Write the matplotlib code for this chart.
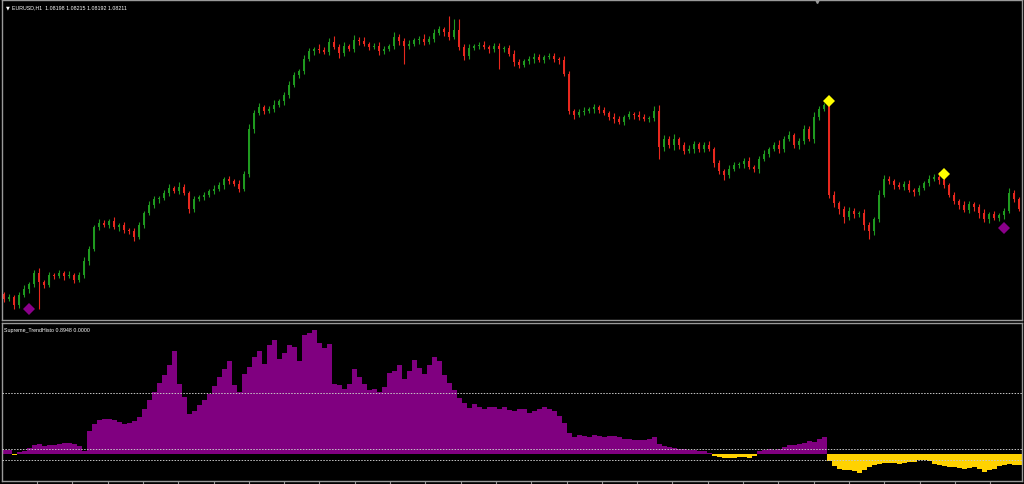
import numpy as np
import matplotlib
matplotlib.use("Agg")
import matplotlib.pyplot as plt

# EURUSD H1 closes in pips (10731 -> 1.0731), one per bar
close_pips = [
    10731, 10733, 10725, 10735, 10741, 10746, 10757, 10748, 10745, 10755,
    10754, 10757, 10754, 10755, 10750, 10755, 10769, 10781, 10803, 10807,
    10805, 10809, 10803, 10805, 10800, 10799, 10793, 10805, 10817, 10825,
    10831, 10832, 10837, 10842, 10839, 10843, 10837, 10821, 10831, 10833,
    10835, 10839, 10841, 10845, 10851, 10849, 10846, 10841, 10856, 10901,
    10917, 10923, 10919, 10921, 10925, 10929, 10935, 10945, 10955, 10959,
    10971, 10979, 10981, 10980, 10978, 10988, 10983, 10977, 10984, 10981,
    10990, 10989, 10986, 10983, 10984, 10979, 10981, 10984, 10993, 10989,
    10984, 10986, 10990, 10991, 10988, 10991, 10997, 11001, 10998, 10993,
    11000, 10983, 10974, 10982, 10984, 10985, 10983, 10981, 10984, 10981,
    10982, 10976, 10968, 10965, 10969, 10971, 10973, 10970, 10973, 10974,
    10971, 10970, 10956, 10919, 10915, 10918, 10919, 10921, 10923, 10920,
    10917, 10913, 10911, 10908, 10913, 10916, 10915, 10913, 10911, 10912,
    10919, 10883, 10891, 10885, 10891, 10885, 10879, 10881, 10886, 10881,
    10885, 10881, 10867, 10859, 10855, 10861, 10865, 10866, 10869, 10863,
    10861, 10871, 10876, 10881, 10885, 10881, 10891, 10895, 10885, 10889,
    10901, 10891, 10913, 10921, 10925, 10835, 10827, 10821, 10813, 10819,
    10816, 10817, 10805, 10799, 10811, 10835, 10851, 10849, 10845, 10843,
    10846, 10840, 10838, 10842, 10847, 10851, 10853, 10850, 10845, 10835,
    10829, 10825, 10820, 10826, 10823, 10817, 10811, 10816, 10812, 10815,
    10819, 10837, 10831, 10821,
]
first_open = 10736

# wick lengths above / below the body, pips
upper_wick = [
    2, 3, 2, 3, 4, 2, 3, 5, 2, 3,  2, 3, 2, 4, 2, 3, 4, 3, 2, 4,
    3, 2, 4, 2, 3, 2, 3, 3, 2, 4,  3, 2, 3, 4, 2, 5, 3, 2, 3, 2,
    3, 2, 4, 3, 2, 3, 2, 4, 3, 5,  3, 4, 2, 3, 5, 2, 3, 4, 3, 2,
    4, 3, 2, 5, 3, 4, 6, 3, 4, 2,  5, 3, 4, 2, 3, 4, 3, 2, 5, 3,
    3, 4, 2, 3, 5, 3, 4, 3, 2, 16, 11, 11, 3, 4, 2, 3, 4, 2, 3, 3,
    2, 3, 4, 3, 2, 3, 4, 3, 2, 3,  3, 2, 4, 3, 2, 3, 4, 2, 3, 2,
    3, 2, 4, 3, 2, 3, 2, 4, 3, 2,  5, 6, 4, 3, 5, 2, 3, 4, 3, 2,
    3, 4, 2, 3, 2, 4, 3, 2, 3, 4,  2, 3, 4, 2, 3, 5, 3, 4, 2, 3,
    4, 3, 5, 3, 2, 3, 4, 2, 3, 4,  3, 2, 4, 3, 2, 5, 4, 3, 2, 3,
    3, 4, 2, 3, 2, 4, 3, 5, 3, 2,  3, 2, 4, 3, 2, 3, 4, 2, 3, 2,
    3, 5, 3, 2,
]
lower_wick = [
    3, 2, 4, 3, 2, 4, 3, 27, 3, 2,  3, 2, 4, 2, 3, 2, 3, 4, 2, 3,
    2, 3, 2, 4, 3, 3, 4, 2, 3, 2,  3, 4, 2, 3, 2, 3, 2, 4, 3, 2,
    3, 2, 3, 2, 4, 3, 2, 3, 2, 3,  4, 2, 3, 2, 3, 2, 4, 3, 2, 3,
    3, 2, 4, 3, 2, 3, 2, 5, 3, 2,  3, 4, 2, 3, 2, 4, 3, 2, 3, 4,
    18, 3, 2, 4, 3, 2, 3, 2, 4, 3,  2, 3, 4, 3, 2, 3, 2, 4, 3, 20,
    3, 2, 4, 3, 2, 3, 4, 2, 3, 2,  3, 4, 2, 3, 4, 2, 3, 2, 4, 3,
    2, 3, 4, 2, 3, 2, 4, 3, 2, 3,  3, 12, 4, 3, 5, 4, 3, 2, 4, 3,
    3, 2, 4, 3, 5, 3, 2, 3, 4, 2,  3, 4, 2, 3, 2, 4, 3, 2, 3, 4,
    3, 2, 4, 3, 2, 3, 4, 5, 6, 3,  4, 3, 5, 8, 4, 3, 2, 3, 4, 2,
    3, 2, 4, 3, 2, 3, 2, 4, 3, 2,  3, 4, 2, 3, 4, 5, 3, 4, 2, 3,
    4, 2, 3, 2,
]

# Supreme_TrendHisto buffer
histo = [
    0.04, 0.04, -0.01, 0.02, 0.03, 0.06, 0.09, 0.10, 0.08, 0.09,
    0.09, 0.10, 0.11, 0.11, 0.10, 0.08, 0.03, 0.23, 0.30, 0.34,
    0.35, 0.35, 0.34, 0.32, 0.30, 0.31, 0.33, 0.37, 0.45, 0.54,
    0.62, 0.71, 0.79, 0.89, 1.03, 0.70, 0.57, 0.40, 0.43, 0.49,
    0.54, 0.60, 0.68, 0.77, 0.85, 0.93, 0.69, 0.62, 0.80, 0.87,
    0.97, 1.03, 0.90, 1.09, 1.14, 0.95, 1.01, 1.09, 1.07, 0.93,
    1.19, 1.21, 1.24, 1.11, 1.06, 1.10, 0.70, 0.69, 0.65, 0.70,
    0.85, 0.77, 0.70, 0.64, 0.65, 0.62, 0.67, 0.81, 0.83, 0.89,
    0.75, 0.83, 0.94, 0.86, 0.80, 0.89, 0.97, 0.93, 0.79, 0.71,
    0.64, 0.56, 0.51, 0.46, 0.50, 0.47, 0.45, 0.47, 0.47, 0.45,
    0.47, 0.44, 0.43, 0.45, 0.45, 0.41, 0.43, 0.45, 0.47, 0.45,
    0.43, 0.38, 0.31, 0.21, 0.17, 0.19, 0.18, 0.17, 0.19, 0.18,
    0.17, 0.18, 0.18, 0.17, 0.15, 0.15, 0.14, 0.14, 0.14, 0.15,
    0.17, 0.10, 0.08, 0.07, 0.06, 0.05, 0.05, 0.04, 0.04, 0.03,
    0.03, 0.01, -0.02, -0.03, -0.04, -0.04, -0.04, -0.03, -0.03, -0.04,
    -0.02, 0.03, 0.04, 0.05, 0.04, 0.05, 0.07, 0.09, 0.09, 0.10,
    0.11, 0.13, 0.12, 0.15, 0.17, -0.07, -0.12, -0.15, -0.16, -0.16,
    -0.17, -0.19, -0.16, -0.13, -0.11, -0.10, -0.09, -0.09, -0.09, -0.10,
    -0.09, -0.08, -0.08, -0.06, -0.06, -0.07, -0.10, -0.11, -0.12, -0.13,
    -0.13, -0.14, -0.15, -0.14, -0.13, -0.15, -0.18, -0.16, -0.15, -0.12,
    -0.11, -0.10, -0.11, -0.11,
]
histo_levels = [0.61, 0.05, -0.06]

# diamond signals (bar index, price in pips)
sell_idx = [165, 188]
sell_pips = [10929, 10856]
buy_idx = [5, 200]
buy_pips = [10721, 10802]

header = "EURUSD,H1  1.08198 1.08215 1.08192 1.08211"
sub_header = "Supreme_TrendHisto 0.8948 0.0000"

BULL = "#1f9a1f"
BEAR = "#e8281e"
PURPLE = "#800080"
GOLD = "#ffd200"
FRAME = "#9a9a9a"

close = np.array(close_pips) / 1e4
opens = np.r_[first_open, close_pips[:-1]] / 1e4
high = np.maximum(opens, close) + np.array(upper_wick) / 1e4
low = np.minimum(opens, close) - np.array(lower_wick) / 1e4
x = np.arange(len(close))
up = close >= opens
colors = np.where(up, BULL, BEAR)

fig = plt.figure(figsize=(10.24, 4.85), dpi=100, facecolor="black")
W, H = 1024, 485
ax = fig.add_axes([2 / W, 1 - 321 / H, 1020 / W, 320 / H], facecolor="black")
ax2 = fig.add_axes([2 / W, 1 - 482 / H, 1020 / W, 158 / H], facecolor="black")

# candles
ax.vlines(x, low, high, colors=colors, linewidth=0.8)
body = close - opens
body = np.where(np.abs(body) < 0.00005, 0.00005, body)
ax.bar(x, body, bottom=opens, width=0.55, color=colors, linewidth=0)
ax.plot(sell_idx, np.array(sell_pips) / 1e4, "D", color="#ffff00",
        markersize=6, markeredgewidth=0)
ax.plot(buy_idx, np.array(buy_pips) / 1e4, "D", color="#8b008b",
        markersize=6, markeredgewidth=0)
ax.set_xlim(-0.4, 203.6)
ax.set_ylim(1.0710, 1.1030)

# histogram
h = np.array(histo)
ax2.bar(x, h, width=1.0, color=np.where(h >= 0, PURPLE, GOLD), linewidth=0)
for lv in histo_levels:
    ax2.axhline(lv, color="#c8c8c8", linewidth=0.7, linestyle=(0, (1.5, 1.5)), zorder=5)
ax2.set_xlim(-0.4, 203.6)
ax2.set_ylim(-0.27, 1.31)

for a in (ax, ax2):
    for s in a.spines.values():
        s.set_color(FRAME)
        s.set_linewidth(1)
    a.set_yticks([])
ax.set_xticks([])
ax2.set_xticks(np.arange(6.6, 204, 7.06))
ax2.tick_params(axis="x", direction="out", length=3, color=FRAME, labelbottom=False)

# shift marker on top border
ax.plot([162.6], [1.0], "v", color=FRAME, markersize=4, transform=ax.get_xaxis_transform(),
        clip_on=False)

ax.text(0.004, 0.985, "\u25bc", color="white", fontsize=3.6, va="top", ha="left",
        transform=ax.transAxes)
ax.text(0.010, 0.988, header, color="white", fontsize=3.8, va="top", ha="left",
        family="Liberation Sans", transform=ax.transAxes)
ax2.text(0.002, 0.975, sub_header, color="white", fontsize=3.8, va="top", ha="left",
         family="Liberation Sans", transform=ax2.transAxes)

fig.savefig("out.png", dpi=100, facecolor="black")
